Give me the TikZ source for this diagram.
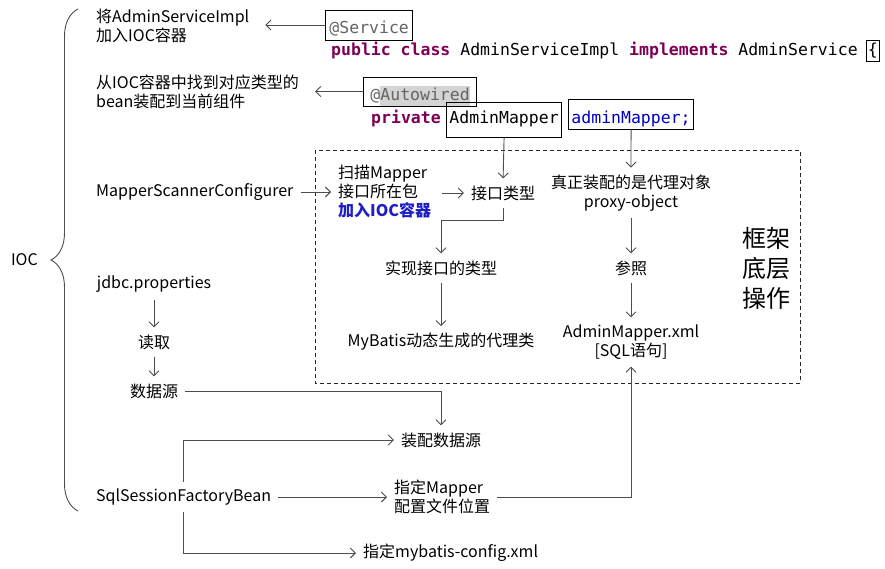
\documentclass[tikz,border=0pt]{standalone}
\usepackage{fontspec}
\newfontfamily\cjk{Noto Sans CJK SC}
\newfontfamily\codefont{DejaVu Sans Mono}
\usepackage{xcolor}
\usetikzlibrary{arrows.meta,positioning,decorations.pathreplacing}
\definecolor{kwcol}{RGB}{127,0,85}
\definecolor{fldcol}{RGB}{0,0,192}
\definecolor{anncol}{RGB}{100,100,100}
\definecolor{hlgray}{RGB}{212,212,212}
\definecolor{iocblue}{RGB}{30,30,200}
\newcommand\hlword[1]{{\setlength\fboxsep{0pt}\colorbox{hlgray}{\strut #1}}}
\tikzset{
  lbl/.style={font=\cjk\fontsize{16}{19}\selectfont, inner sep=3pt},
  biglbl/.style={font=\cjk\fontsize{24}{30}\selectfont, align=center, inner sep=2pt},
  code/.style={font=\codefont\fontsize{16.5}{20}\selectfont, inner sep=0pt, anchor=base west},
  cbox/.style={code, draw=black, line width=0.9pt, inner xsep=#1},
  cbox/.default=3pt,
  arr/.style={-{Straight Barb[length=5pt,width=10pt]}, draw=black!70, line width=0.9pt,
              shorten <=4pt, shorten >=4pt},
  frame/.style={draw=black!85, line width=0.9pt, dash pattern=on 4pt off 3pt},
}
\begin{document}
\begin{tikzpicture}[x=1pt, y=-1pt]
\useasboundingbox[fill=white] (0,0) rectangle (885,568);

% CODE
\node[cbox=4pt, text=anncol, text height=23pt, text depth=7pt] (svcbox) at (325,33) {@Service};
\node[code] (pubcls) at (331,55) {\textcolor{kwcol}{\textbf{public class}} AdminServiceImpl \textcolor{kwcol}{\textbf{implements}} AdminService};
\node[cbox=1.5pt, text height=15pt, text depth=6pt] (brc) at (866,55) {\{};
\node[cbox=7pt, text=anncol, text height=23pt, text depth=6pt] (autobox) at (363,100) {@\hlword{Autowired}};
\node[code] (prv) at (371,123) {\textcolor{kwcol}{\textbf{private}}};
\node[cbox, text height=21pt, text depth=14pt] (amap) at (446,123) {AdminMapper};
\node[cbox, text=fldcol, text height=24pt, text depth=6pt] (adm) at (568,123) {adminMapper;};

% LEFT COLUMN
\draw[draw=black!70, line width=0.9pt, decorate, decoration={brace, amplitude=27pt}] (78,511) -- (78,9);
\node[lbl, anchor=east] (ioc) at (41,260) {IOC};
\node[lbl, anchor=west, align=left] (svctxt) at (93,26) {将AdminServiceImpl\\加入IOC容器};
\node[lbl, anchor=west, align=left] (autotxt) at (93,92) {从IOC容器中找到对应类型的\\bean装配到当前组件};
\node[lbl, anchor=west] (msc) at (93,192) {MapperScannerConfigurer};
\node[lbl] (jdbc) at (154,284) {jdbc.properties};
\node[lbl] (read) at (154,342) {读取};
\node[lbl] (ds) at (154,391) {数据源};
\node[lbl, anchor=west] (ssfb) at (93,497) {SqlSessionFactoryBean};

% FRAMEWORK
\draw[frame] (315,150) rectangle (800,383);
\node[lbl, anchor=west, align=left] (scan) at (335,192) {扫描Mapper\\接口所在包\\{\bfseries\color{iocblue}加入IOC容器}};
\node[lbl] (iface) at (503,193) {接口类型};
\node[lbl, align=center] (proxy) at (631,193) {真正装配的是代理对象\\proxy-object};
\node[lbl] (impl) at (441,268) {实现接口的类型};
\node[lbl] (mbproxy) at (441,342) {MyBatis动态生成的代理类};
\node[lbl] (refer) at (631,268) {参照};
\node[lbl, align=center] (xml) at (631,342) {AdminMapper.xml\\{[}SQL语句{]}};
\node[biglbl] (fw) at (766,268) {框架\\底层\\操作};

% SQLSESSION
\node[lbl] (asmds) at (441,440) {装配数据源};
\node[lbl, anchor=west, align=left] (mloc) at (391,497) {指定Mapper\\配置文件位置};
\node[lbl, anchor=west] (cfg) at (360,553) {指定mybatis-config.xml};

% Arrows
\draw[arr, shorten <=0pt, shorten >=13pt] (svcbox.west) -- (svctxt.east |- svcbox.west);
\draw[arr, shorten <=0pt, shorten >=13pt] (autobox.west) -- (autotxt.east |- autobox.west);
\draw[arr, shorten <=0pt] (amap.south) -- (iface.north);
\draw[arr, shorten <=0pt] (adm.south) -- (proxy.north);
\draw[arr] (msc.east) -- (scan.west |- msc.east);
\draw[arr, shorten <=8pt] (scan.east |- iface.west) -- (iface.west);
\draw[arr] (iface.south) -- ++(0,17) -| (impl.north);
\draw[arr] (impl.south) -- (mbproxy.north);
\draw[arr] (proxy.south) -- (refer.north);
\draw[arr] (refer.south) -- (xml.north);
\draw[arr] (jdbc.south) -- (read.north);
\draw[arr] (read.south) -- (ds.north);
\draw[arr] (ds.east) -| (asmds.north);
\draw[arr] (ssfb.north) |- (asmds.west);
\draw[arr] (ssfb.east) -- (mloc.west);
\draw[arr] (mloc.east) -| (xml.south);
\draw[arr] (ssfb.south) |- (cfg.west);

\end{tikzpicture}
\end{document}
